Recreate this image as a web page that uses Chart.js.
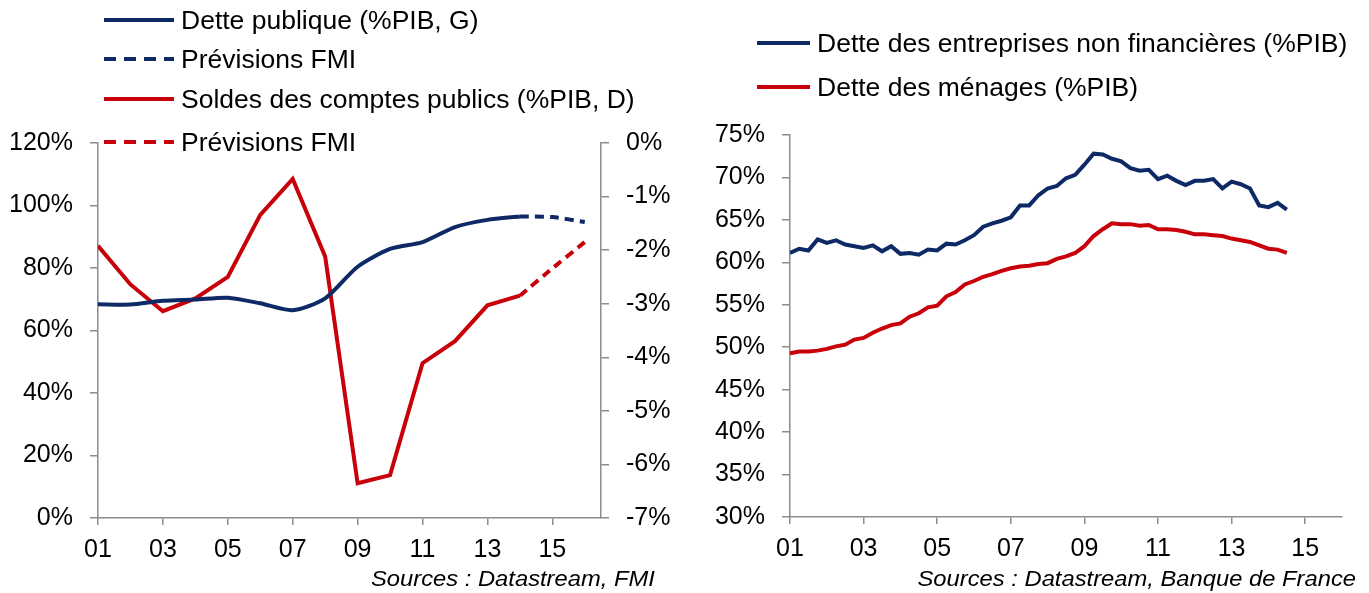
<!DOCTYPE html>
<html>
<head>
<meta charset="utf-8">
<script src="https://cdn.jsdelivr.net/npm/chart.js@4.4.1/dist/chart.umd.min.js"></script>
<style>
  body { margin: 0; width: 1369px; height: 593px; background: #fff; position: relative; overflow: hidden;
         font-family: "Liberation Sans", Arial, sans-serif; }
  .box { position: absolute; top: 0; height: 593px; }
  .leg { position: absolute; font-size: 25px; color: #000; display: flex; align-items: center; white-space: nowrap; }
  .leg svg { margin-right: 7px; }
  .leg span { display: inline-block; transform: scaleX(1.06); transform-origin: left center; }
  .src { position: absolute; font-style: italic; font-size: 22px; color: #000; white-space: nowrap;
         transform: scaleX(1.08); transform-origin: right center; }
</style>
</head>
<body>
<div class="box" style="left:0;width:680px"><canvas id="gauche"></canvas></div>
<div class="box" style="left:680px;width:689px"><canvas id="droite"></canvas></div>
<div class="src" style="right:714px;top:566px">Sources : Datastream, FMI</div>
<div class="src" style="right:13px;top:566px">Sources : Datastream, Banque de France</div>
<div id="legendes"></div>

<script>
// Graphique de gauche : dette publique et solde public (années 2001-2016)
const annees = [1, 2, 3, 4, 5, 6, 7, 8, 9, 10, 11, 12, 13, 14, 15, 16];
const dettePublique = [68.4, 68.3, 69.5, 69.9, 70.5, 68.7, 66.5, 70.3, 80.4, 86.1, 88.3, 93.1, 95.4, 96.5, null, null];
const dettePrevFMI = [null, null, null, null, null, null, null, null, null, null, null, null, null, 96.5, 96.3, 94.7];
const soldesPublics = [-1.92, -2.64, -3.14, -2.90, -2.50, -1.34, -0.67, -2.12, -6.35, -6.20, -4.11, -3.70, -3.03, -2.85, null, null];
const soldesPrevFMI = [null, null, null, null, null, null, null, null, null, null, null, null, null, -2.85, -2.34, -1.85];
const ticksAnnees = [1, 3, 5, 7, 9, 11, 13, 15];

// Graphique de droite : dette privée trimestrielle (2001T1-2014T3)
const trimestres = [];
for (let a = 2001; a <= 2014; a++) {
  for (let q = 1; q <= 4; q++) {
    if (a === 2014 && q === 4) break;
    trimestres.push(a + 'T' + q);
  }
}
const detteEntreprises = [
  61.1, 61.6, 61.4, 62.7, 62.3, 62.6, 62.1, 61.9, 61.7, 62.0,
  61.3, 61.9, 61.0, 61.1, 60.9, 61.5, 61.4, 62.2, 62.1, 62.6,
  63.2, 64.2, 64.6, 64.9, 65.3, 66.7, 66.7, 67.9, 68.7, 69.0,
  69.9, 70.3, 71.5, 72.8, 72.7, 72.2, 71.9, 71.1, 70.8, 70.9,
  69.8, 70.2, 69.6, 69.1, 69.6, 69.6, 69.8, 68.7, 69.5, 69.2,
  68.7, 66.7, 66.5, 67.0, 66.2
];
const detteMenages = [
  49.3, 49.5, 49.5, 49.6, 49.8, 50.1, 50.3, 50.9, 51.1, 51.7,
  52.2, 52.6, 52.8, 53.6, 54.0, 54.7, 54.9, 56.0, 56.5, 57.4,
  57.8, 58.3, 58.6, 59.0, 59.3, 59.5, 59.6, 59.8, 59.9, 60.4,
  60.7, 61.1, 61.9, 63.1, 63.9, 64.6, 64.5, 64.5, 64.3, 64.4,
  63.9, 63.9, 63.8, 63.6, 63.3, 63.3, 63.2, 63.1, 62.8, 62.6,
  62.4, 62.0, 61.6, 61.5, 61.1
];

const BLEU = '#0d2a66';
const ROUGE = '#c8000a';
const GRIS = '#8c8c8c';

Chart.defaults.font = { family: '"Liberation Sans", Arial, sans-serif', size: 25 };
Chart.defaults.color = '#000';

const pts = (xs, ys) => xs.map((x, i) => ({ x: x, y: ys[i] }));
const xTrim = trimestres.map(t => +t.slice(2, 4) + (+t.slice(5) - 1) / 4);
const deux = v => String(v).padStart(2, '0');

function axeX(min, max) {
  return {
    type: 'linear', min: min, max: max,
    afterBuildTicks: s => { s.ticks = ticksAnnees.map(v => ({ value: v })); },
    afterFit: s => { s.height = 42; },
    ticks: { callback: deux, padding: 10, maxRotation: 0 },
    grid: { drawOnChartArea: false, color: GRIS, tickLength: 7, lineWidth: 1.5 },
    border: { color: GRIS, width: 1.5 }
  };
}
function axeY(pos, min, max, pas, largeur) {
  return {
    type: 'linear', position: pos, min: min, max: max,
    afterFit: s => { s.width = largeur; },
    ticks: { stepSize: pas, padding: 17, callback: v => v + '%' },
    grid: { drawOnChartArea: false, color: GRIS, tickLength: 8, lineWidth: 1.5 },
    border: { color: GRIS, width: 1.5 }
  };
}
function serie(data, couleur, axe, pointille, tension) {
  return {
    data: data, borderColor: couleur, borderWidth: 4, pointRadius: 0, yAxisID: axe,
    borderDash: pointille ? [9, 6] : [], tension: tension || 0, spanGaps: false, fill: false
  };
}

new Chart(document.getElementById('gauche'), {
  type: 'line',
  data: {
    datasets: [
      serie(pts(annees, dettePublique), BLEU, 'y', false, 0.25),
      serie(pts(annees, dettePrevFMI), BLEU, 'y', true, 0.25),
      serie(pts(annees, soldesPublics), ROUGE, 'y2', false),
      serie(pts(annees, soldesPrevFMI), ROUGE, 'y2', true, 0.15)
    ]
  },
  options: {
    responsive: true, maintainAspectRatio: false, animation: false,
    layout: { padding: { top: 143, bottom: 33, left: 0, right: 0 } },
    plugins: { legend: { display: false }, tooltip: { enabled: false } },
    scales: {
      x: axeX(1, 16.5),
      y: axeY('left', 0, 120, 20, 98),
      y2: axeY('right', -7, 0, 1, 79)
    }
  }
});

new Chart(document.getElementById('droite'), {
  type: 'line',
  data: {
    datasets: [
      serie(pts(xTrim, detteEntreprises), BLEU, 'y', false),
      serie(pts(xTrim, detteMenages), ROUGE, 'y', false)
    ]
  },
  options: {
    responsive: true, maintainAspectRatio: false, animation: false,
    layout: { padding: { top: 135, bottom: 34, left: 0, right: 27 } },
    plugins: { legend: { display: false }, tooltip: { enabled: false } },
    scales: {
      x: axeX(1, 16),
      y: axeY('left', 30, 75, 5, 110)
    }
  }
});

// Légendes (texte HTML)
const legendes = [
  { txt: 'Dette publique (%PIB, G)', c: BLEU, d: false, x: 104, y: 20, l: 70 },
  { txt: 'Prévisions FMI', c: BLEU, d: true, x: 104, y: 59, l: 70 },
  { txt: 'Soldes des comptes publics (%PIB, D)', c: ROUGE, d: false, x: 104, y: 99, l: 70 },
  { txt: 'Prévisions FMI', c: ROUGE, d: true, x: 104, y: 142, l: 70 },
  { txt: 'Dette des entreprises non financières (%PIB)', c: BLEU, d: false, x: 757, y: 43, l: 53 },
  { txt: 'Dette des ménages (%PIB)', c: ROUGE, d: false, x: 757, y: 87, l: 53 }
];
const zone = document.getElementById('legendes');
legendes.forEach(e => {
  const div = document.createElement('div');
  div.className = 'leg';
  div.style.left = e.x + 'px';
  div.style.top = (e.y - 16) + 'px';
  div.style.height = '32px';
  div.innerHTML = '<svg width="' + e.l + '" height="6"><line x1="0" y1="3" x2="' + e.l + '" y2="3" stroke="' + e.c +
    '" stroke-width="4"' + (e.d ? ' stroke-dasharray="12 8"' : '') + '/></svg><span>' + e.txt + '</span>';
  zone.appendChild(div);
});
</script>
</body>
</html>
